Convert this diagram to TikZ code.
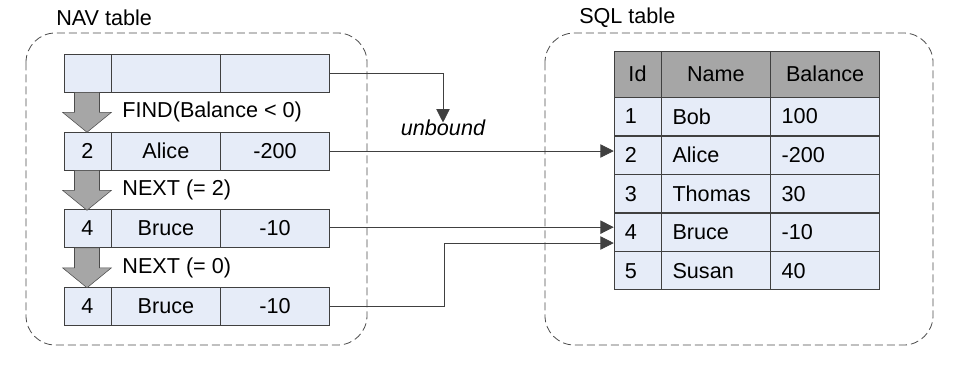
\documentclass[tikz,border=0pt]{standalone}
\usepackage{fontspec}
\setmainfont{Liberation Sans}
\usetikzlibrary{arrows.meta,positioning}

\definecolor{cellfill}{HTML}{E6ECF8}
\definecolor{headfill}{HTML}{A6A6A6}
\definecolor{linegray}{HTML}{404040}

\begin{document}
\begin{tikzpicture}[x=0.75pt, y=-0.75pt,
    every node/.style={font=\fontsize{16.2}{19}\selectfont, inner sep=0pt},
    cell/.style={draw=linegray, fill=cellfill, minimum height=28.5pt},
    idcol/.style={cell, minimum width=35.25pt},
    wide/.style={cell, minimum width=81.5pt},
    frame/.style={draw=black!70, line width=0.6pt, dash pattern=on 6pt off 3pt, rounded corners=22pt},
    blockarrow/.style={draw=gray!60!black, fill=gray!70},
    link/.style={draw=linegray, line width=0.6pt, -{Triangle[length=10pt,width=10pt]}}]
    \useasboundingbox (0,0) rectangle (954,380);

    % frames and titles
    \draw[frame] (26,33) rectangle (367,345);
    \draw[frame] (545,33) rectangle (933,345);
    \node[anchor=west] (navtitle) at (56,18) {NAV table};
    \node[anchor=west] (sqltitle) at (579,18) {SQL table};

    % NAV table rows
    \foreach \r/\y/\id/\name/\bal in {1/73/{}/{}/{}, 2/151/2/Alice/-200,
                                      3/228.5/4/Bruce/-10, 4/306.5/4/Bruce/-10} {
        \node[idcol] (n\r a) at (87.5,\y) {\id};
        \node[wide, right=0pt of n\r a] (n\r b) {\name};
        \node[wide, right=0pt of n\r b] (n\r c) {\bal};
    }

    % steps between rows
    \foreach \r/\t in {1/{FIND(Balance < 0)}, 2/{NEXT (= 2)}, 3/{NEXT (= 0)}} {
        \path (n\r a.south) ++(-1,0) coordinate (s\r);
        \draw[blockarrow] (s\r) ++(-12,0) -- ++(0,20) -- ++(-12,0) -- ++(24.5,20)
            -- ++(24.5,-20) -- ++(-12,0) -- ++(0,-20) -- cycle;
        \node[anchor=west] (step\r) at ([xshift=26pt, yshift=-15pt]n\r a.south) {\t};
    }

    % SQL table
    \node[idcol, fill=headfill, minimum height=34.5pt] (ha) at (637.5,74) {Id};
    \node[wide, fill=headfill, minimum height=34.5pt, right=0pt of ha] (hb) {Name};
    \node[wide, fill=headfill, minimum height=34.5pt, right=0pt of hb] (hc) {Balance};
    \foreach \r/\name/\bal [remember=\r as \p (initially h)] in
            {1/Bob/100, 2/Alice/-200, 3/Thomas/30, 4/Bruce/-10, 5/Susan/40} {
        \node[idcol, text width=19pt, align=left, below=0pt of \p a] (\r a) {\r};
        \node[wide, text width=65pt, align=left, below=0pt of \p b] (\r b) {\name};
        \node[wide, text width=65pt, align=left, below=0pt of \p c] (\r c) {\bal};
    }

    % links
    \node[font=\fontsize{16.2}{19}\selectfont\itshape] (unbound) at (443,128) {unbound};
    \draw[link] (n1c.east) -| ([yshift=-2pt]unbound.north);
    \draw[link] (n2c.east) -- (n2c.east -| 2a.west);
    \draw[link] ([yshift=1pt]n3c.east) -- ([yshift=1pt]n3c.east -| 4a.west);
    \coordinate (bend) at (444,243);
    \draw[link] (n4c.east) -| (bend) -- (bend -| 4a.west);
\end{tikzpicture}
\end{document}
